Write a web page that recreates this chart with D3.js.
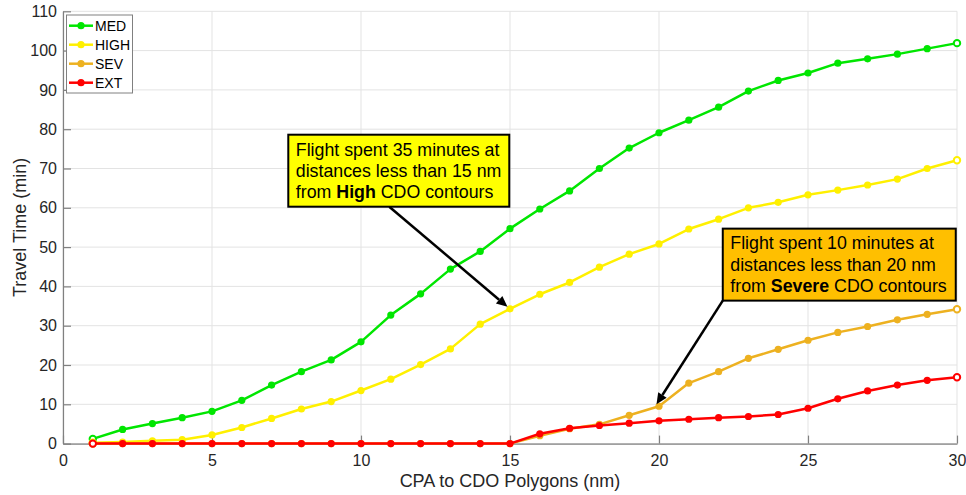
<!DOCTYPE html>
<html><head><meta charset="utf-8">
<script src="https://cdn.jsdelivr.net/npm/d3@7"></script>
<style>
body{margin:0;background:#fff}
text{font-family:Arial,"Liberation Sans",Helvetica,sans-serif}
</style>
</head><body>
<svg id="c" width="966" height="495"></svg>
<script>
// ---- data ----
const cpa = [1,2,3,4,5,6,7,8,9,10,11,12,13,14,15,16,17,18,19,20,21,22,23,24,25,26,27,28,29,30];
const med = [1.2,3.6,5.1,6.6,8.2,11.0,14.9,18.3,21.3,25.9,32.7,38.1,44.4,48.9,54.7,59.7,64.3,70.0,75.2,79.1,82.3,85.6,89.7,92.4,94.3,96.8,97.9,99.1,100.5,101.9];
const high = [0.2,0.4,0.7,1.0,2.2,4.1,6.4,8.8,10.7,13.5,16.4,20.1,24.1,30.4,34.3,38.0,41.0,44.9,48.2,50.8,54.6,57.1,60.0,61.4,63.3,64.5,65.8,67.3,70.0,72.1];
const sev = [0,0,0,0,0,0,0,0,0,0,0,0,0,0,0,2.0,3.8,4.9,7.2,9.5,15.4,18.3,21.7,24.0,26.3,28.3,29.8,31.5,32.9,34.2];
const ext = [0,0,0,0,0,0,0,0,0,0,0,0,0,0,0,2.5,3.9,4.6,5.2,5.8,6.2,6.6,6.9,7.4,9.0,11.4,13.4,14.9,16.1,16.9];
const seriesNames = ["MED","HIGH","SEV","EXT"];
const seriesColors = ["#00e600","#fff000","#edb120","#ff0000"];
const xTicks = [0,5,10,15,20,25,30];
const yTicks = [0,10,20,30,40,50,60,70,80,90,100,110];
const xLabel = "CPA to CDO Polygons (nm)";
const yLabel = "Travel Time (min)";
const notes = [
  {lines:[["Flight spent 35 minutes at"],["distances less than 15 nm"],["from ","High"," CDO contours"]],
   fill:"#ffff00", box:[7.56, 78.6], w:221, h:72, tailAt:101, target:[15, 34.3]},
  {lines:[["Flight spent 10 minutes at"],["distances less than 20 nm"],["from ","Severe"," CDO contours"]],
   fill:"#ffbf00", box:[22.14, 54.7], w:233, h:72, tailAt:0, target:[20, 9.5]}
];

// ---- layout ----
const svg = d3.select("#c");
const L = 63, R = 957, T = 11.3, B = 443.6;
const x = d3.scaleLinear().domain([0,30]).range([L,R]);
const y = d3.scaleLinear().domain([0,110]).range([B,T]);

// grid
const g = svg.append("g");
g.selectAll(".gx").data(xTicks).join("line")
  .attr("x1",d=>x(d)).attr("x2",d=>x(d)).attr("y1",B).attr("y2",T)
  .attr("stroke","#e3e3e3").attr("stroke-width",1);
g.selectAll(".gy").data(yTicks).join("line")
  .attr("y1",d=>y(d)).attr("y2",d=>y(d)).attr("x1",L).attr("x2",R)
  .attr("stroke","#e3e3e3").attr("stroke-width",1);

// axes
const axColor = "#808080";
const xAxis = svg.append("g").attr("transform",`translate(0,${B})`)
  .call(d3.axisBottom(x).tickValues(xTicks).tickSizeInner(-8).tickSizeOuter(0).tickPadding(11));
const yAxis = svg.append("g").attr("transform",`translate(${L},0)`)
  .call(d3.axisLeft(y).tickValues(yTicks).tickSizeInner(-8).tickSizeOuter(0).tickPadding(6));
[xAxis,yAxis].forEach(a=>{
  a.select(".domain").attr("stroke",axColor).attr("stroke-width",1.2);
  a.selectAll(".tick line").attr("stroke",axColor).attr("stroke-width",1.2);
  a.selectAll(".tick text").attr("fill","#262626").style("font-size","16px")
    .style("font-family","Arial,'Liberation Sans',sans-serif");
});

// axis labels
svg.append("text").attr("x",(L+R)/2).attr("y",487).attr("text-anchor","middle")
  .attr("fill","#262626").style("font-size","18px").text(xLabel);
svg.append("text").attr("transform",`translate(26,${(T+B)/2}) rotate(-90)`).attr("text-anchor","middle")
  .attr("fill","#262626").style("font-size","18px").text(yLabel);

// series
const allSeries = [med,high,sev,ext];
const line = d3.line().x((d,i)=>x(cpa[i])).y(d=>y(d));
allSeries.forEach((s,k)=>{
  const gs = svg.append("g");
  gs.append("path").datum(s).attr("d",line).attr("fill","none")
    .attr("stroke",seriesColors[k]).attr("stroke-width",2.5).attr("stroke-linejoin","round");
  gs.selectAll("circle").data(s).join("circle")
    .attr("cx",(d,i)=>x(cpa[i])).attr("cy",d=>y(d)).attr("r",(d,i)=>(i===0||i===s.length-1)?3.2:3.6)
    .attr("fill",(d,i)=>(i===0||i===s.length-1)?"#fff":seriesColors[k])
    .attr("stroke",seriesColors[k]).attr("stroke-width",(d,i)=>(i===0||i===s.length-1)?2:0);
});

// annotations
notes.forEach(n=>{
  const bx = x(n.box[0]), by = y(n.box[1]);
  const ga = svg.append("g");
  const sx = bx + n.tailAt, sy = by + n.h;
  const tx = x(n.target[0]) - 2.5, ty = y(n.target[1]) - 2;
  const ang = Math.atan2(ty-sy, tx-sx);
  const hl = 11, hw = 5;
  const bxp = tx - hl*Math.cos(ang), byp = ty - hl*Math.sin(ang);
  ga.append("line").attr("x1",sx).attr("y1",sy).attr("x2",bxp).attr("y2",byp)
    .attr("stroke","#000").attr("stroke-width",2.5);
  ga.append("polygon").attr("points",[
      [tx,ty],
      [bxp + hw*Math.sin(ang), byp - hw*Math.cos(ang)],
      [bxp - hw*Math.sin(ang), byp + hw*Math.cos(ang)]
    ].map(p=>p.join(",")).join(" ")).attr("fill","#000");
  ga.append("rect").attr("x",bx).attr("y",by).attr("width",n.w).attr("height",n.h)
    .attr("fill",n.fill).attr("stroke","#000").attr("stroke-width",2);
  n.lines.forEach((ln,i)=>{
    const t = ga.append("text").attr("x",bx+7.5).attr("y",by+20.8+i*21.3)
      .attr("fill","#000").style("font-size","17.8px");
    ln.forEach((part,j)=>{
      t.append("tspan").text(part).style("font-weight", (ln.length===3 && j===1)?"bold":"normal");
    });
  });
});

// legend
const lg = svg.append("g");
lg.append("rect").attr("x",66.5).attr("y",15).attr("width",66).attr("height",78)
  .attr("fill","#fff").attr("stroke","#808080").attr("stroke-width",1);
seriesNames.forEach((nm,k)=>{
  const yy = 25.7 + k*19;
  lg.append("line").attr("x1",69).attr("x2",93).attr("y1",yy).attr("y2",yy)
    .attr("stroke",seriesColors[k]).attr("stroke-width",2.5);
  lg.append("circle").attr("cx",81).attr("cy",yy).attr("r",3.6).attr("fill",seriesColors[k]);
  lg.append("text").attr("x",95).attr("y",yy+5).attr("fill","#000").style("font-size","14px").text(nm);
});
</script>
</body></html>
